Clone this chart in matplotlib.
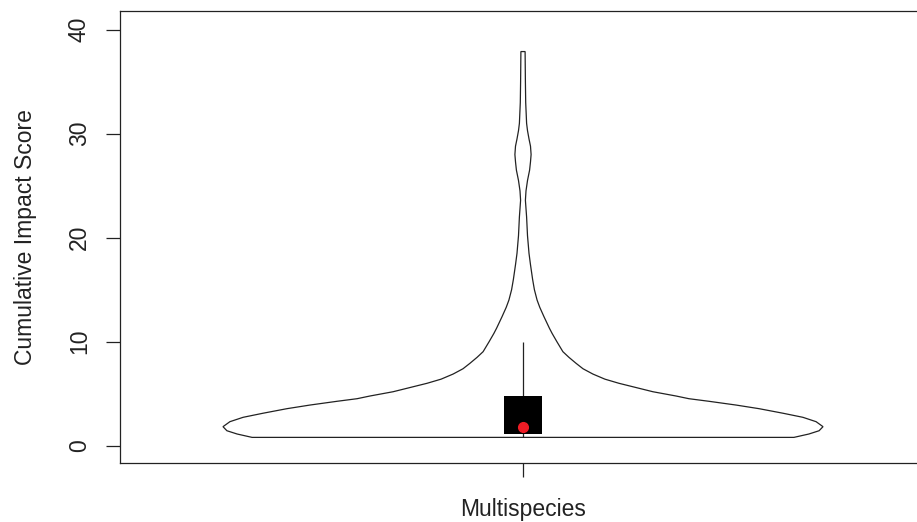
import numpy as np
import matplotlib.pyplot as plt

plt.rcParams['font.family'] = ['Liberation Sans', 'DejaVu Sans']

# Density profile of the cumulative impact score (score level, relative half-width)
score_levels = [0.8, 1.125, 1.44, 1.83, 2.31, 2.73, 3.12, 3.56, 3.91, 4.27, 4.52,
                4.78, 5.19, 6.0, 6.4, 6.89, 7.4, 7.92, 8.5, 9.04, 10.0, 10.8, 11.3,
                12.4, 13.3, 14.0, 15.0, 16.0, 17.4, 18.5, 20.2, 22.0, 23.6, 24.5,
                25.5, 26.5, 27.3, 28.0, 28.8, 29.5, 30.3, 31.0, 33.0, 35.0, 37.9]
density = [0.903, 0.953, 0.987, 1.0, 0.977, 0.933, 0.867, 0.787, 0.71, 0.62, 0.553,
           0.51, 0.433, 0.32, 0.273, 0.233, 0.2, 0.177, 0.153, 0.133, 0.113, 0.097, 0.088,
           0.07, 0.056, 0.047, 0.038, 0.032, 0.025, 0.02, 0.015, 0.012, 0.008, 0.01,
           0.015, 0.022, 0.025, 0.027, 0.025, 0.02, 0.015, 0.012, 0.009, 0.008, 0.007]

# Box summary
score_min = 0.8
q1 = 1.15
median = 1.8
q3 = 4.8
upper_whisker = 10.0

group = "Multispecies"
yticks = [0, 10, 20, 30, 40]

fig = plt.figure(figsize=(9.17, 5.22), dpi=100)
ax = fig.add_axes([120 / 917, 59 / 522, 806 / 917, 452 / 522])

pos = 1.0
half = 0.5 * np.asarray(density)
levels = np.asarray(score_levels)
xs = np.concatenate([pos - half, (pos + half)[::-1]])
ys = np.concatenate([levels, levels[::-1]])
ax.fill(xs, ys, facecolor='white', edgecolor='#222222', linewidth=0.9, zorder=2)

ax.vlines(pos, score_min, upper_whisker, color='#222222', linewidth=0.9, zorder=3)
ax.bar(pos, q3 - q1, bottom=q1, width=0.063, color='black', zorder=4)
ax.plot(pos, median, 'o', color='#ee1c25', markersize=7, zorder=5)

ax.set_xlim(pos - 403 / 600, pos + 403 / 600)
ax.set_ylim(-1.663, 41.8)

ax.set_xticks([pos])
ax.set_xticklabels([group])
ax.set_yticks(yticks)
ax.set_yticklabels([str(t) for t in yticks], rotation=90, va='center')

ax.tick_params(axis='both', direction='out', length=10, width=0.9, color='#222222',
               labelsize=16.5, labelcolor='#222222')
ax.tick_params(axis='y', pad=11)
ax.tick_params(axis='x', pad=15)
ax.set_ylabel("Cumulative Impact Score", fontsize=16.5, color='#222222', labelpad=22)

for sp in ax.spines.values():
    sp.set_color('#222222')
    sp.set_linewidth(0.9)

fig.savefig("out.png", dpi=100)
